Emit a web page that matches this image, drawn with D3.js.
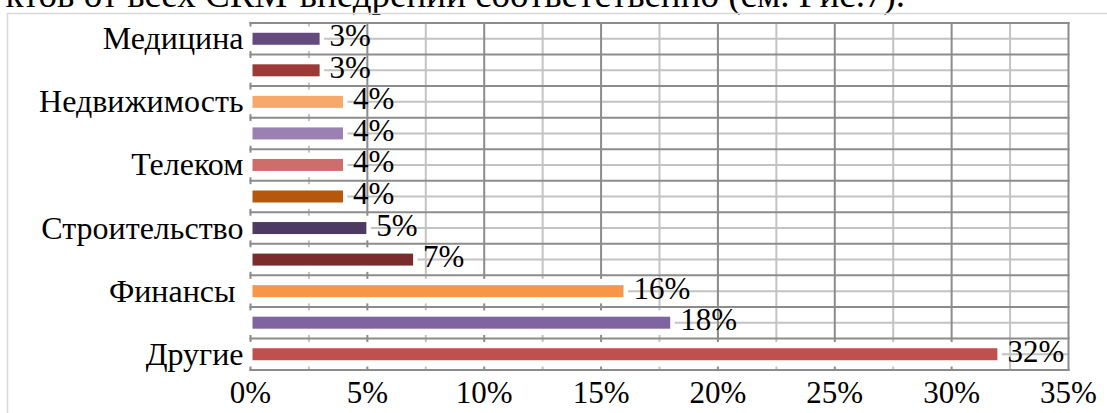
<!DOCTYPE html>
<html>
<head>
<meta charset="utf-8">
<script src="https://cdn.jsdelivr.net/npm/d3@7"></script>
<style>
  html, body { margin: 0; padding: 0; background: #fff; }
  svg { display: block; }
</style>
</head>
<body>
<svg id="chart" width="1107" height="413"></svg>
<script>
// ---- data ----
const categories = ["Медицина", "", "Недвижимость", "", "Телеком", "", "Строительство", "", "Финансы ", "", "Другие"];
const values = [3, 3, 4, 4, 4, 4, 5, 7, 16, 18, 32];
const colors = ["#654a80", "#9c3a38", "#f7a96a", "#9a81b2", "#cd6e6c", "#b6580c", "#4d3a63", "#7a2c2c", "#f79646", "#8064a2", "#c0504d"];
const xTicks = [0, 5, 10, 15, 20, 25, 30, 35];
const xMinorTicks = [2.5, 7.5, 12.5, 17.5, 22.5, 27.5, 32.5];
const headerText = "ктов от всех CRM-внедрений соответственно (см. Рис.7).";

// ---- layout ----
const FONT = "Liberation Serif";
const FS = 31;
const svg = d3.select("#chart");
const pLeft = 250.5, pRight = 1068.5, pTop = 23, pBottom = 370;
const x = d3.scaleLinear().domain([0, 35]).range([pLeft, pRight]);
const idx = d3.range(categories.length);
const y = d3.scaleBand().domain(idx).range([pTop, pBottom]).padding(0);
const bw = y.bandwidth();
const barH = 12;

function txt(sel) {
  return sel.attr("font-family", FONT).attr("fill", "#000").attr("xml:space", "preserve");
}

// header text (cut off document line)
txt(svg.append("text")).attr("x", 905).attr("y", 7).attr("text-anchor", "end")
  .attr("font-size", 37).text(headerText);

// outer frame
svg.append("path").attr("d", "M7.5,413 L7.5,13.5 L1107,13.5")
  .attr("fill", "none").attr("stroke", "#d9d9d9").attr("stroke-width", 1.5);

const minorColor = "#c3c3c3", majorColor = "#8c8c8c";

// minor horizontal lines (category centres)
svg.append("g").selectAll("line").data(idx).join("line")
  .attr("x1", pLeft).attr("x2", pRight)
  .attr("y1", d => y(d) + bw / 2).attr("y2", d => y(d) + bw / 2)
  .attr("stroke", minorColor).attr("stroke-width", 2);

// minor vertical lines
svg.append("g").selectAll("line").data(xMinorTicks).join("line")
  .attr("x1", d => x(d)).attr("x2", d => x(d)).attr("y1", pTop).attr("y2", pBottom)
  .attr("stroke", minorColor).attr("stroke-width", 2);

// major horizontal lines (category boundaries)
const bounds = idx.map(d => y(d)).concat([pBottom]);
svg.append("g").selectAll("line").data(bounds).join("line")
  .attr("x1", pLeft - 1).attr("x2", pRight + 1)
  .attr("y1", d => d).attr("y2", d => d)
  .attr("stroke", majorColor).attr("stroke-width", 2);

// major vertical lines
svg.append("g").selectAll("line").data(xTicks).join("line")
  .attr("x1", d => x(d)).attr("x2", d => x(d)).attr("y1", pTop - 1).attr("y2", pBottom + 1)
  .attr("stroke", majorColor).attr("stroke-width", 2);

// white masks behind bars
svg.append("g").selectAll("rect").data(idx).join("rect")
  .attr("x", x(0) - 2.5)
  .attr("y", d => y(d) + 3.5)
  .attr("width", d => x(values[d]) - x(0) + 6)
  .attr("height", bw - 7)
  .attr("fill", "#fff");

// bars
svg.append("g").selectAll("rect").data(idx).join("rect")
  .attr("x", x(0) + 2)
  .attr("y", d => y(d) + bw / 2 - barH / 2)
  .attr("width", d => x(values[d]) - x(0) - 3)
  .attr("height", barH)
  .attr("fill", d => colors[d]);

// data labels
txt(svg.append("g").selectAll("text").data(idx).join("text"))
  .attr("x", d => x(values[d]) + 9)
  .attr("y", d => y(d) + bw / 2 + 7.5)
  .attr("font-size", FS)
  .text(d => values[d] + "%");

// category labels
txt(svg.append("g").selectAll("text").data(idx).join("text"))
  .attr("x", pLeft - 7)
  .attr("y", d => y(d) + bw / 2 + 10.5)
  .attr("text-anchor", "end")
  .attr("font-size", 32)
  .text(d => categories[d]);

// x tick labels
txt(svg.append("g").selectAll("text").data(xTicks).join("text"))
  .attr("x", d => x(d))
  .attr("y", 403)
  .attr("text-anchor", "middle")
  .attr("font-size", FS)
  .text(d => d + "%");
</script>
</body>
</html>
